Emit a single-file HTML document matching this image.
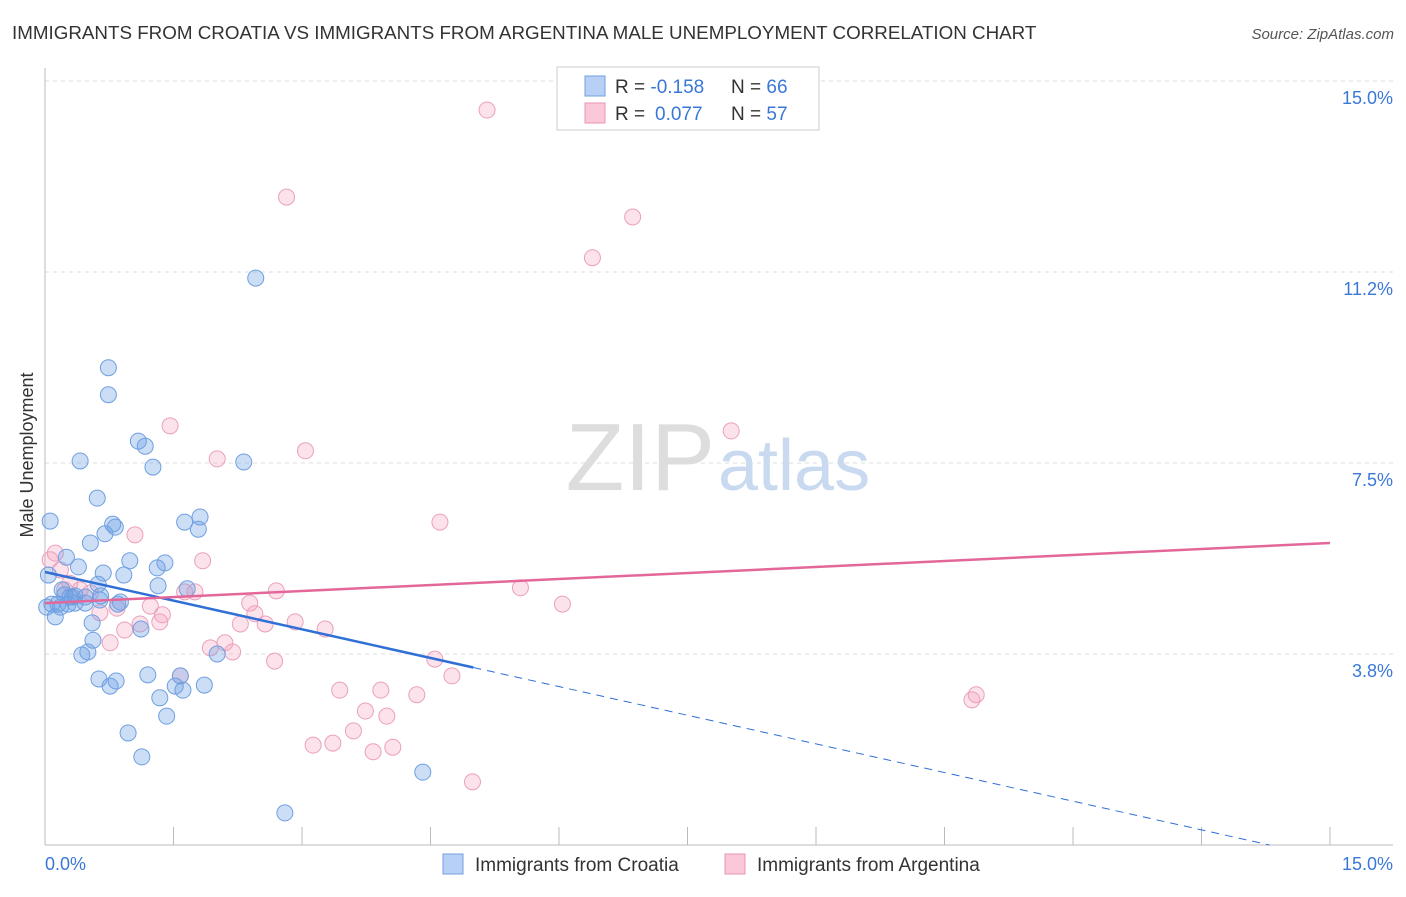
<!DOCTYPE html>
<html><head><meta charset="utf-8"><style>
body{margin:0;background:#fff;font-family:"Liberation Sans",sans-serif;}
svg text{font-family:"Liberation Sans",sans-serif;}
</style></head><body>
<svg id="chart" width="1406" height="892" viewBox="0 0 1406 892">
<text x="12" y="39" font-size="18.8" fill="#333">IMMIGRANTS FROM CROATIA VS IMMIGRANTS FROM ARGENTINA MALE UNEMPLOYMENT CORRELATION CHART</text>
<text x="1394" y="39" font-size="15" fill="#555" font-style="italic" text-anchor="end">Source: ZipAtlas.com</text>
<text x="33" y="455" font-size="18" fill="#333" transform="rotate(-90 33 455)" text-anchor="middle">Male Unemployment</text>
<g id="grid"></g>
<text x="715" y="490" font-size="96" fill="#ddd" font-family="Liberation Serif" text-anchor="end">ZIP</text>
<text x="718" y="490" font-size="72" fill="#c9d9f0">atlas</text>
<g id="marks"></g>
<g id="lines"></g>
<g>
<rect x="557" y="67" width="262" height="63" fill="#fff" stroke="#ccc"/>
<rect x="585" y="76" width="20" height="20" fill="#b8d0f5" stroke="#6f9fe0"/>
<rect x="585" y="103" width="20" height="20" fill="#fac8d8" stroke="#e895b5"/>
<text x="615" y="93" font-size="19" fill="#333">R = <tspan fill="#3a78d8">-0.158</tspan><tspan x="731">N = </tspan><tspan fill="#3a78d8">66</tspan></text>
<text x="615" y="120" font-size="19" fill="#333">R = <tspan x="655" fill="#3a78d8">0.077</tspan><tspan x="731">N = </tspan><tspan fill="#3a78d8">57</tspan></text>
</g>
<text x="45" y="870" font-size="18" fill="#3a78d8">0.0%</text>
<text x="1393" y="870" font-size="18" fill="#3a78d8" text-anchor="end">15.0%</text>
<rect x="443" y="854" width="20" height="20" fill="#b8d0f5" stroke="#6f9fe0"/>
<text x="475" y="871" font-size="19" fill="#333">Immigrants from Croatia</text>
<rect x="725" y="854" width="20" height="20" fill="#fac8d8" stroke="#e895b5"/>
<text x="757" y="871" font-size="19" fill="#333">Immigrants from Argentina</text>
</svg>
<script>
const yTicks=[3.75,7.5,11.25,15];
const yTickLabels=["3.8%","7.5%","11.2%","15.0%"];
const xTicks=[0,1.5,3,4.5,6,7.5,9,10.5,12,13.5,15];
const croatiaX=[.06,.12,.04,.08,.15,.20,.25,.27,.32,.35,.39,.41,.43,.47,.50,.53,.55,.56,.61,.62,.63,.65,.68,.70,.74,.74,.76,.79,.82,.83,.85,.88,.92,.97,.99,1.09,1.12,1.13,1.17,1.20,1.26,1.31,1.32,1.34,1.40,1.42,1.52,1.58,1.61,1.63,1.66,1.79,1.81,1.86,2.01,2.32,2.46,2.80,4.41,.18,.29,.35,.02,.23,.47,.64];
const croatiaY=[6.36,4.48,5.30,4.73,4.73,5.01,5.65,4.73,4.87,4.89,5.46,7.54,3.73,4.75,3.79,5.93,4.36,4.02,6.81,5.12,3.26,4.89,5.34,6.11,9.37,8.84,3.12,6.30,6.24,3.22,4.73,4.77,5.30,2.20,5.58,7.93,4.24,1.73,7.83,3.34,7.42,5.44,5.09,2.89,5.54,2.53,3.12,3.32,3.04,6.34,5.03,6.20,6.44,3.14,3.75,7.52,11.13,0.63,1.43,4.67,4.87,4.75,4.67,4.91,4.87,4.81];
const argX=[.06,.12,.18,.23,.29,.41,.53,.64,.76,.84,.93,1.05,1.11,1.23,1.34,1.37,1.46,1.58,1.63,1.75,1.84,1.93,2.01,2.10,2.19,2.28,2.39,2.45,2.57,2.68,2.70,2.82,2.92,3.04,3.13,3.27,3.36,3.44,3.60,3.74,3.83,3.92,3.99,4.06,4.34,4.55,4.61,4.75,4.99,5.16,5.55,6.04,6.39,6.86,8.01,10.82,10.87];
const argY=[5.60,5.73,5.40,5.01,5.14,5.01,4.95,4.56,3.97,4.65,4.22,6.09,4.34,4.69,4.38,4.52,8.23,3.32,4.97,4.97,5.58,3.87,7.58,3.97,3.79,4.34,4.75,4.54,4.34,3.61,4.99,12.72,4.38,7.74,1.96,4.24,2.00,3.04,2.24,2.63,1.83,3.04,2.53,1.92,2.95,3.65,6.34,3.32,1.24,14.43,5.05,4.73,11.53,12.33,8.13,2.85,2.95];
const croatiaFit=[5.36,-0.375];
const argFit=[4.75,0.0787];
const NS="http://www.w3.org/2000/svg";
const sx=v=>45+v/15*1285;
const sy=v=>845-v/3.75*191;
function mk(t,a,p){const e=document.createElementNS(NS,t);for(const k in a)e.setAttribute(k,a[k]);p.appendChild(e);return e;}
const grid=document.getElementById('grid');
yTicks.forEach((t,i)=>{
 const l=mk('line',{x1:45,x2:1393,y1:sy(t),y2:sy(t),stroke:'#ddd','stroke-dasharray':'4,4'},grid);
 
 
 const tx=mk('text',{x:1393,y:sy(t)+23,'font-size':18,fill:'#3a78d8','text-anchor':'end'},grid);
 tx.textContent=yTickLabels[i];
 
 
});
const ax=mk('line',{x1:45,x2:1393,y1:845,y2:845,stroke:'#bbb'},grid);


const ay=mk('line',{x1:45,x2:45,y1:68,y2:845,stroke:'#bbb'},grid);


xTicks.forEach(t=>{
 const l=mk('line',{x1:sx(t),x2:sx(t),y1:827,y2:845,stroke:'#bbb'},grid);
 
 
});
const marks=document.getElementById('marks');
argX.forEach((x,i)=>{
 const c=mk('circle',{cx:sx(x),cy:sy(argY[i]),r:8,fill:'rgba(245,160,190,0.3)',stroke:'#eba0bc','stroke-width':1},marks);
 
 
});
croatiaX.forEach((x,i)=>{
 const c=mk('circle',{cx:sx(x),cy:sy(croatiaY[i]),r:8,fill:'rgba(110,160,230,0.35)',stroke:'#6f9fe0','stroke-width':1},marks);
 
 
});
const lines=document.getElementById('lines');
const f=(fit,x)=>fit[0]+fit[1]*x;
const b1=mk('line',{x1:sx(0),y1:sy(f(croatiaFit,0)),x2:sx(5),y2:sy(f(croatiaFit,5)),stroke:'#2f6fd6','stroke-width':2.5},lines);


const xe=-croatiaFit[0]/croatiaFit[1];
const b2=mk('line',{x1:sx(5),y1:sy(f(croatiaFit,5)),x2:sx(xe),y2:sy(0),stroke:'#2f6fd6','stroke-width':1,'stroke-dasharray':'8,6'},lines);


const p1=mk('line',{x1:sx(0),y1:sy(f(argFit,0)),x2:sx(15),y2:sy(f(argFit,15)),stroke:'#e4679a','stroke-width':2.5},lines);


</script>
</body></html>
